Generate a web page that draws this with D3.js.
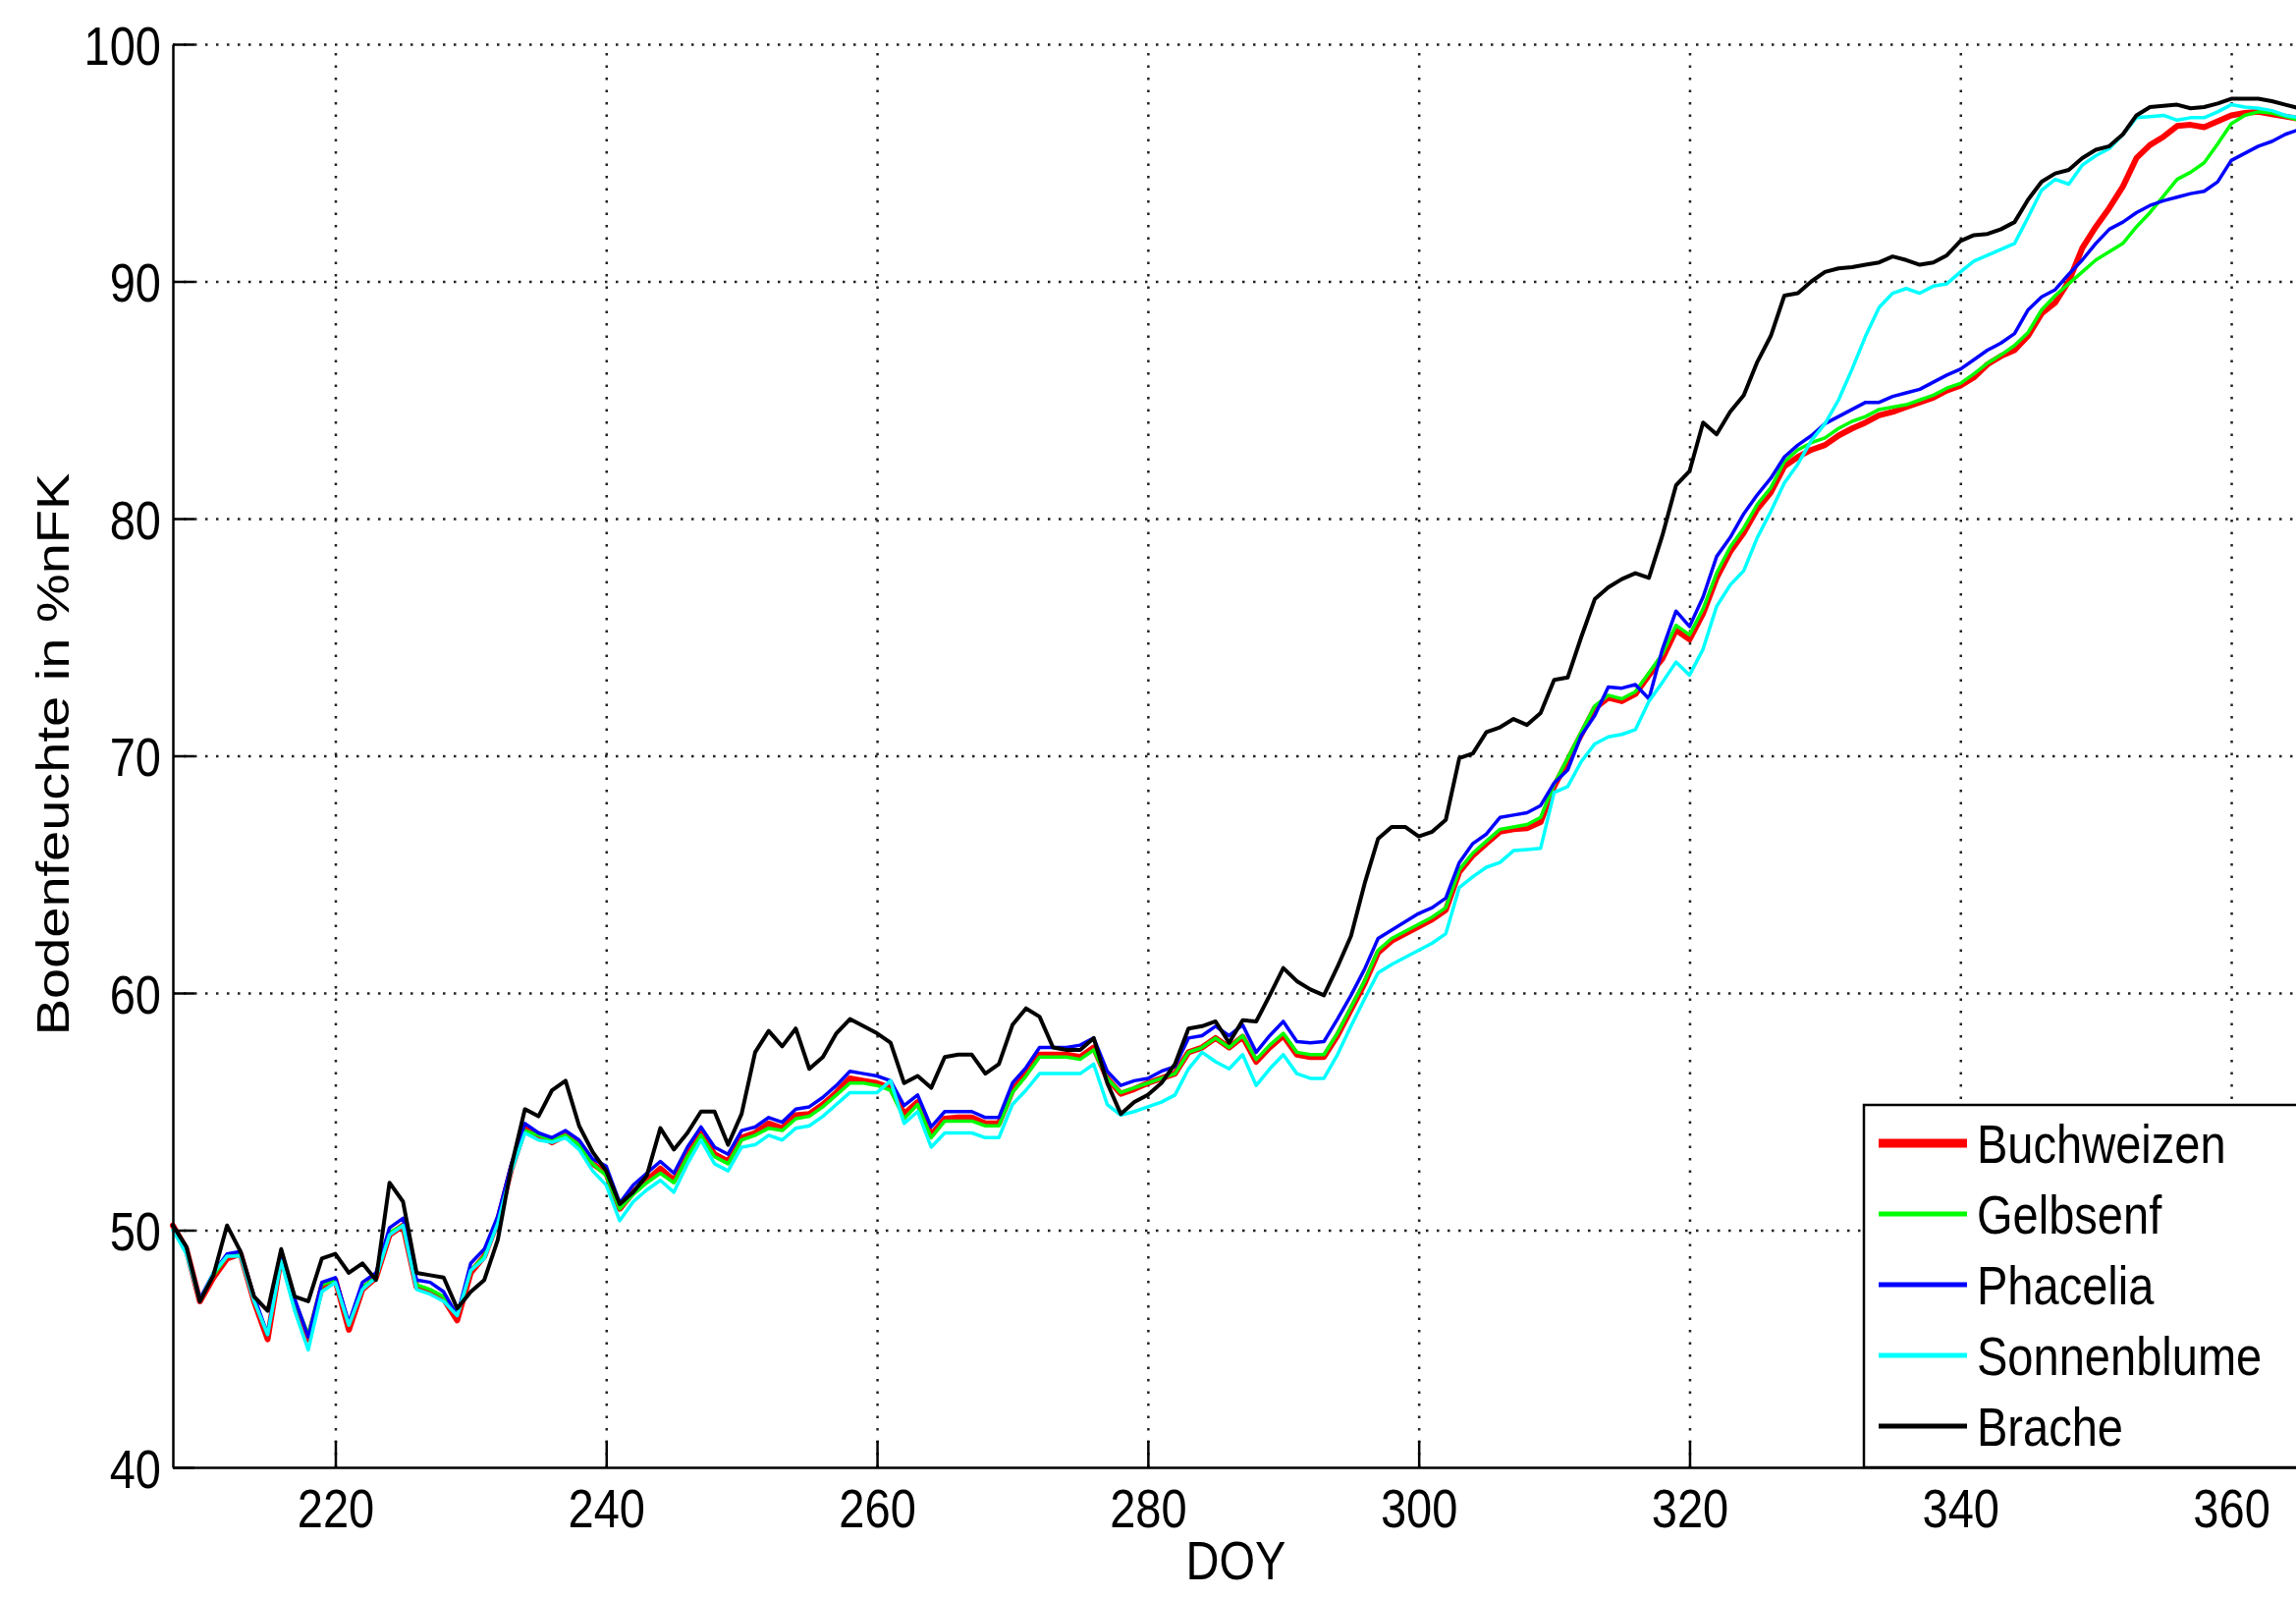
<!DOCTYPE html>
<html>
<head>
<meta charset="utf-8">
<script src="https://cdn.jsdelivr.net/npm/d3@7"></script>
<style>
  html, body { margin: 0; padding: 0; background: #fff; }
  svg { display: block; font-family: "Liberation Sans", Arial, sans-serif; }
</style>
</head>
<body>
<svg width="2338" height="1626"></svg>
<script>
// ---- Daten (Tag des Jahres 208..365, ein Wert pro Tag)
const doy = d3.range(208, 366);

const buchweizen = [
  50.2, 49.2, 47.0, 48.0, 48.8, 49.0, 47.0, 45.4, 48.9, 46.9,
  45.4, 47.6, 47.9, 45.8, 47.5, 48.0, 49.8, 50.2, 47.6, 47.4,
  47.1, 46.2, 48.2, 48.9, 50.4, 52.6, 54.3, 54.0, 53.7, 54.0,
  53.6, 52.8, 52.4, 50.9, 51.6, 52.1, 52.6, 52.1, 53.2, 54.1,
  53.2, 52.9, 53.9, 54.1, 54.5, 54.3, 54.85, 54.9, 55.3, 55.8,
  56.4, 56.3, 56.2, 56.0, 54.9, 55.4, 54.0, 54.7, 54.75, 54.75,
  54.5, 54.5, 55.9, 56.6, 57.4, 57.4, 57.4, 57.3, 57.7, 56.4,
  55.75, 55.95, 56.2, 56.4, 56.6, 57.5, 57.7, 58.1, 57.7, 58.15,
  57.1, 57.7, 58.2, 57.4, 57.3, 57.3, 58.2, 59.3, 60.4, 61.7,
  62.2, 62.5, 62.8, 63.1, 63.5, 65.1, 65.8, 66.3, 66.8, 66.9,
  66.95, 67.2, 68.7, 69.8, 70.9, 72.0, 72.45, 72.3, 72.6, 73.4,
  74.1, 75.3, 74.9, 76.0, 77.5, 78.6, 79.4, 80.4, 81.1, 82.2,
  82.6, 82.9, 83.1, 83.5, 83.8, 84.05, 84.35, 84.5, 84.7, 84.9,
  85.1, 85.4, 85.6, 85.95, 86.5, 86.85, 87.1, 87.7, 88.65, 89.1,
  90.0, 91.4, 92.3, 93.1, 94.0, 95.2, 95.75, 96.1, 96.55, 96.6,
  96.5, 96.75, 97.0, 97.1, 97.15, 97.05, 96.95, 96.85
];

const gelbsenf = [
  50.2, 49.2, 47.1, 48.1, 48.9, 49.0, 47.1, 45.6, 48.9, 47.0,
  45.6, 47.7, 47.9, 46.0, 47.6, 48.0, 49.9, 50.2, 47.7, 47.5,
  47.2, 46.4, 48.3, 48.9, 50.5, 52.7, 54.2, 54.0, 53.8, 54.0,
  53.6, 52.8, 52.3, 50.9, 51.5, 52.0, 52.4, 52.0, 53.1, 54.0,
  53.1, 52.8, 53.8, 54.0, 54.3, 54.2, 54.7, 54.8, 55.2, 55.7,
  56.2, 56.2, 56.1, 55.9, 54.7, 55.3, 53.9, 54.6, 54.6, 54.6,
  54.4, 54.4, 55.8, 56.5, 57.3, 57.3, 57.3, 57.2, 57.6, 56.4,
  55.8, 56.0, 56.2, 56.4, 56.6, 57.5, 57.7, 58.1, 57.7, 58.2,
  57.2, 57.8, 58.3, 57.5, 57.4, 57.4, 58.3, 59.4, 60.5, 61.8,
  62.3, 62.6, 62.9, 63.2, 63.6, 65.2, 65.9, 66.4, 66.9, 67.0,
  67.1, 67.4, 68.8, 69.9, 71.0, 72.1, 72.55, 72.4, 72.7, 73.5,
  74.3, 75.5, 75.1, 76.2, 77.7, 78.8, 79.6, 80.6, 81.3, 82.4,
  82.9, 83.2, 83.4, 83.8, 84.1, 84.3, 84.6, 84.7, 84.8, 85.0,
  85.2, 85.5, 85.7, 86.1, 86.55, 86.9, 87.3, 87.85, 88.8, 89.4,
  89.9, 90.4, 90.9, 91.25, 91.6, 92.3, 92.9, 93.6, 94.3, 94.6,
  95.0, 95.8, 96.65, 97.0, 97.15, 97.1, 96.95, 96.8
];

const phacelia = [
  50.2, 49.2, 47.1, 48.2, 49.0, 49.1, 47.2, 45.6, 49.0, 47.1,
  45.5, 47.8, 48.0, 46.1, 47.8, 48.2, 50.1, 50.5, 47.9, 47.8,
  47.4, 46.4, 48.6, 49.2, 50.6, 52.8, 54.5, 54.1, 53.9, 54.2,
  53.8, 53.0, 52.7, 51.15, 51.9, 52.4, 52.9, 52.4, 53.5, 54.35,
  53.5, 53.2, 54.2, 54.35, 54.75, 54.55, 55.1, 55.2, 55.6, 56.1,
  56.7, 56.6, 56.5, 56.3, 55.25, 55.7, 54.35, 55.0, 55.0, 55.0,
  54.75, 54.75, 56.2, 56.85, 57.7, 57.7, 57.7, 57.8, 58.1, 56.7,
  56.1, 56.3, 56.4, 56.7, 56.9, 58.1, 58.2, 58.6, 58.2, 58.65,
  57.5, 58.2, 58.8, 57.95, 57.9, 57.95, 58.9, 59.9, 61.0, 62.3,
  62.65, 63.0, 63.35, 63.6, 64.0, 65.5, 66.3, 66.7, 67.4, 67.5,
  67.6, 67.9, 68.85, 69.4, 70.85, 71.7, 72.9, 72.85, 73.0, 72.4,
  74.5, 76.1, 75.45, 76.7, 78.4, 79.2, 80.2, 81.0, 81.7, 82.6,
  83.1, 83.5, 84.0, 84.3, 84.6, 84.9, 84.9, 85.15, 85.3, 85.45,
  85.75, 86.05, 86.3, 86.7, 87.1, 87.4, 87.8, 88.8, 89.35, 89.65,
  90.3, 90.9, 91.6, 92.2, 92.5, 92.9, 93.2, 93.4, 93.55, 93.7,
  93.8, 94.2, 95.1, 95.4, 95.7, 95.9, 96.2, 96.4
];

const sonnenblume = [
  50.0, 49.0, 47.0, 48.2, 48.9, 48.9, 47.0, 45.6, 48.7, 46.6,
  44.95, 47.4, 47.8, 46.0, 47.5, 48.0, 49.8, 50.2, 47.5, 47.3,
  47.0, 46.4, 48.3, 48.8, 50.3, 52.5, 54.1, 53.8, 53.7, 53.9,
  53.4, 52.5, 51.9, 50.4, 51.2, 51.7, 52.1, 51.6, 52.8, 53.8,
  52.8, 52.5, 53.5, 53.6, 54.0, 53.8, 54.3, 54.4, 54.8, 55.3,
  55.8, 55.8, 55.8, 56.3, 54.5, 55.0, 53.5, 54.1, 54.1, 54.1,
  53.9, 53.9, 55.3, 55.9, 56.6, 56.6, 56.6, 56.6, 57.0, 55.3,
  54.85, 55.0, 55.2, 55.4, 55.7, 56.8, 57.5, 57.1, 56.8, 57.4,
  56.1, 56.8, 57.4, 56.6, 56.4, 56.4, 57.4, 58.6, 59.75, 60.85,
  61.2, 61.5, 61.8, 62.1, 62.5, 64.45, 64.9, 65.3, 65.5, 66.0,
  66.05, 66.1, 68.45, 68.7, 69.75, 70.5, 70.8, 70.9, 71.1, 72.3,
  73.1, 73.95, 73.4, 74.5, 76.3, 77.2, 77.8, 79.2, 80.3, 81.5,
  82.3, 83.3, 84.0, 85.0, 86.3, 87.7, 88.9, 89.5, 89.7, 89.5,
  89.8, 89.9, 90.4, 90.85, 91.1, 91.35, 91.6, 92.7, 93.85, 94.3,
  94.1, 94.9, 95.3, 95.6, 96.2, 96.9, 96.95, 97.0, 96.8, 96.9,
  96.9, 97.15, 97.45, 97.35, 97.3, 97.2, 97.0, 96.9
];

const brache = [
  50.2, 49.3, 47.0, 48.1, 50.2, 49.1, 47.2, 46.6, 49.2, 47.2,
  47.0, 48.8, 49.0, 48.2, 48.6, 47.9, 52.0, 51.2, 48.2, 48.1,
  48.0, 46.7, 47.4, 47.9, 49.6, 52.7, 55.1, 54.8, 55.9, 56.3,
  54.4, 53.3, 52.5, 51.1, 51.6, 52.3, 54.3, 53.4, 54.1, 55.0,
  55.0, 53.6, 54.9, 57.5, 58.4, 57.75, 58.5, 56.8, 57.3, 58.3,
  58.9, 58.6, 58.3, 57.9, 56.2, 56.5, 56.0, 57.3, 57.4, 57.4,
  56.6, 57.0, 58.65, 59.35, 59.0, 57.7, 57.6, 57.6, 58.1, 56.2,
  54.9, 55.4, 55.7, 56.2, 57.0, 58.5, 58.6, 58.8, 57.9, 58.85,
  58.8, 59.9, 61.05, 60.5, 60.15, 59.9, 61.1, 62.4, 64.6, 66.5,
  67.0, 67.0, 66.6, 66.8, 67.3, 69.9, 70.1, 71.0, 71.2, 71.55,
  71.3, 71.8, 73.2, 73.3, 75.0, 76.6, 77.1, 77.45, 77.7, 77.5,
  79.3, 81.4, 82.0, 84.05, 83.55, 84.5, 85.2, 86.6, 87.7, 89.4,
  89.5, 90.0, 90.4, 90.55, 90.6, 90.7, 90.8, 91.05, 90.9, 90.7,
  90.8, 91.1, 91.7, 91.95, 92.0, 92.2, 92.5, 93.45, 94.2, 94.55,
  94.7, 95.2, 95.55, 95.7, 96.2, 97.0, 97.35, 97.4, 97.45, 97.3,
  97.35, 97.5, 97.7, 97.7, 97.7, 97.6, 97.45, 97.3
];

const seriesNames = ['Buchweizen', 'Gelbsenf', 'Phacelia', 'Sonnenblume', 'Brache'];
const seriesValues = [buchweizen, gelbsenf, phacelia, sonnenblume, brache];
const xTicks = [220, 240, 260, 280, 300, 320, 340, 360];
const yTicks = [40, 50, 60, 70, 80, 90, 100];

// ---- Stil
const colors = ['#ff0000', '#00ff00', '#0000ff', '#00ffff', '#000000'];
const widths = [6, 3.5, 3.5, 3.5, 4];
const legendWidths = [9, 5, 5, 5, 5];
const fontSize = 56;
const squeeze = 0.84; // Bild ist horizontal gestaucht

const svg = d3.select('svg');
const margens = { left: 176, right: 2341, top: 45, bottom: 1494 };

// ---- Escalas
const mapX = d3.scaleLinear().domain([208, 365]).range([margens.left, margens.right]);
const mapY = d3.scaleLinear().domain([40, 100]).range([margens.bottom, margens.top]);

// ---- Grid
svg.append('g')
    .attr('transform', `translate(0, ${margens.bottom})`)
    .call(d3.axisBottom(mapX).tickValues(xTicks).tickSize(-(margens.bottom - margens.top)).tickFormat(''))
    .call(g => g.select('.domain').remove())
    .selectAll('line')
    .attr('stroke', '#222')
    .attr('stroke-width', 2.5)
    .attr('stroke-dasharray', '2.5,10');

svg.append('g')
    .attr('transform', `translate(${margens.left}, 0)`)
    .call(d3.axisLeft(mapY).tickValues(yTicks.filter(v => v > 40)).tickSize(-(margens.right - margens.left)).tickFormat(''))
    .call(g => g.select('.domain').remove())
    .selectAll('line')
    .attr('stroke', '#222')
    .attr('stroke-width', 2.5)
    .attr('stroke-dasharray', '2.5,8.5');

// ---- Linien
const line = d3.line()
    .x((d, i) => mapX(doy[i]))
    .y(d => mapY(d));

svg.append('g')
    .selectAll('path')
    .data(seriesValues)
    .join('path')
    .attr('d', d => line(d))
    .attr('fill', 'none')
    .attr('stroke', (d, i) => colors[i])
    .attr('stroke-width', (d, i) => widths[i])
    .attr('stroke-linejoin', 'round')
    .attr('stroke-linecap', 'round');

// ---- Eixos
const xAxis = svg.append('g')
    .attr('transform', `translate(0, ${margens.bottom})`)
    .call(d3.axisBottom(mapX).tickValues(xTicks).tickSizeInner(-27).tickSizeOuter(0));

xAxis.select('.domain').attr('stroke', '#000').attr('stroke-width', 2.5);
xAxis.selectAll('.tick line').attr('stroke', '#000').attr('stroke-width', 2.5);
xAxis.selectAll('.tick text')
    .attr('y', 21)
    .attr('dy', '0.71em')
    .attr('transform', `scale(${squeeze},1)`)
    .style('font-size', fontSize + 'px')
    .style('font-family', '"Liberation Sans", Arial, sans-serif')
    .attr('fill', '#000');

const yAxis = svg.append('g')
    .attr('transform', `translate(${margens.left}, 0)`)
    .call(d3.axisLeft(mapY).tickValues(yTicks).tickSizeInner(-22).tickSizeOuter(0));

yAxis.select('.domain').attr('stroke', '#000').attr('stroke-width', 2.5);
yAxis.selectAll('.tick line').attr('stroke', '#000').attr('stroke-width', 2.5);
yAxis.selectAll('.tick text')
    .attr('x', 0)
    .attr('dy', '0.36em')
    .attr('transform', `translate(-12,0) scale(${squeeze},1)`)
    .style('font-size', fontSize + 'px')
    .style('font-family', '"Liberation Sans", Arial, sans-serif')
    .attr('fill', '#000');

// ---- Labels
svg.append('text')
    .attr('transform', `translate(${(margens.left + margens.right) / 2}, 1608) scale(${squeeze},1)`)
    .attr('text-anchor', 'middle')
    .style('font-size', fontSize + 'px')
    .text('DOY');

svg.append('text')
    .attr('transform', `translate(70, 768) rotate(-90) scale(1,${squeeze})`)
    .attr('text-anchor', 'middle')
    .style('font-size', fontSize + 'px')
    .text('Bodenfeuchte in %nFK');

// ---- Legende
const legend = svg.append('g').attr('transform', 'translate(1898, 1125)');

legend.append('rect')
    .attr('x', 0)
    .attr('y', 0)
    .attr('width', 500)
    .attr('height', margens.bottom - 1125)
    .attr('fill', '#fff')
    .attr('stroke', '#000')
    .attr('stroke-width', 2.5);

const items = legend.selectAll('g.item')
    .data(seriesNames)
    .join('g')
    .attr('class', 'item')
    .attr('transform', (d, i) => `translate(0, ${59 + i * 72})`);

items.append('line')
    .attr('x1', 15)
    .attr('x2', 105)
    .attr('y1', -20)
    .attr('y2', -20)
    .attr('stroke', (d, i) => colors[i])
    .attr('stroke-width', (d, i) => legendWidths[i]);

items.append('text')
    .attr('transform', `translate(115, 0) scale(${squeeze},1)`)
    .style('font-size', fontSize + 'px')
    .text(d => d);
</script>
</body>
</html>
